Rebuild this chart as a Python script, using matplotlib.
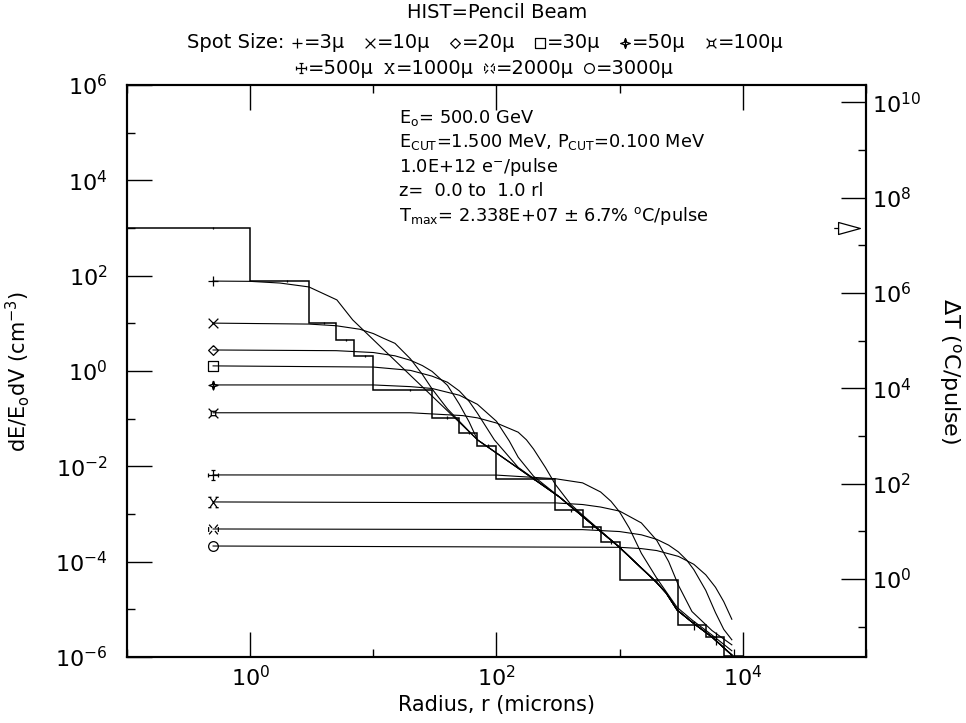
import numpy as np
import matplotlib
matplotlib.use("Agg")
import matplotlib.pyplot as plt
from matplotlib.path import Path
from matplotlib.lines import Line2D
from matplotlib.ticker import FixedLocator, NullFormatter, LogFormatterMathtext

plt.rcParams["font.family"] = ["DejaVu Sans"]
plt.rcParams["mathtext.fontset"] = "dejavusans"

W, H = 966, 723

# pencil-beam histogram: radial bin edges (microns) and dE/E0dV (cm^-3)
HIST_EDGES = [0, 1, 3, 5, 7, 10, 30, 50, 70, 100, 300, 500, 700, 1000,
              3000, 5000, 7000, 10000]
HIST_VALS = [1.01e3, 78, 10.3, 4.5, 2.1, 0.40, 0.105, 0.051, 0.027,
             5.4e-3, 1.2e-3, 5.3e-4, 2.6e-4, 4.2e-5, 4.7e-6, 2.6e-6, 1.07e-6]
HIST_RELERR = [0.04, 0.04, 0.05, 0.05, 0.05, 0.05, 0.06, 0.08, 0.08,
               0.06, 0.08, 0.10, 0.10, 0.06, 0.20, 0.30, 0.35]

TMAX = 2.338e7   # deg C per pulse in the hottest bin

# smoothed pencil-beam tail, shared by the narrow spots at large r
TAIL_R = [70, 100, 324, 991, 1977, 2384, 2924, 3862, 5610, 8140]
TAIL_E = [0.036, 0.019, 2.28e-3, 2.03e-4, 3.75e-5, 2.2e-5, 9.7e-6,
          5.4e-6, 2.63e-6, 1.1e-6]

# spot-size curves (r in microns, dE/E0dV)
R_3 = [0.5, 1, 1.75, 3, 5.06, 6.8, 7.8, 20, 40]
E_3 = [77, 76, 70, 58, 31, 11.8, 8.4, 0.81, 0.146]
R_10 = [0.5, 3, 5, 7.8, 10, 12, 15, 20, 25, 30, 40, 50]
E_10 = [10.1, 9.65, 8.9, 7.5, 6.1, 4.9, 3.8, 1.8, 0.85, 0.42, 0.16, 0.088]
R_20 = [0.5, 5, 10, 15, 20, 25, 30, 40, 50, 60]
E_20 = [2.76, 2.67, 2.44, 2.08, 1.68, 1.3, 0.98, 0.5, 0.2, 0.085]
R_30 = [0.5, 10, 20, 30, 40, 50, 60, 70, 96, 150]
E_30 = [1.28, 1.21, 1.03, 0.78, 0.58, 0.38, 0.23, 0.13, 0.036, 0.0095]
R_50 = [0.5, 10, 20, 30, 50, 70, 100, 127, 150, 200]
E_50 = [0.51, 0.51, 0.47, 0.43, 0.31, 0.2, 0.088, 0.034, 0.0155, 0.0062]
R_100 = [0.5, 20, 53, 70, 100, 150, 175, 200, 250, 300, 400, 500]
E_100 = [0.133, 0.133, 0.116, 0.104, 0.081, 0.052, 0.036, 0.023, 0.0094,
         0.0042, 0.0016, 9.5e-4]
R_500 = [0.5, 100, 300, 500, 700, 850, 1000, 1200, 1500, 2000, 2924, 3862,
         5610, 8140]
E_500 = [6.6e-3, 6.55e-3, 5.5e-3, 4.5e-3, 2.9e-3, 1.85e-3, 1.1e-3, 5e-4,
         1.5e-4, 4.5e-5, 1.1e-5, 6e-6, 2.9e-6, 1.35e-6]
R_1000 = [0.5, 300, 500, 700, 1000, 1500, 2000, 2500, 3000, 3862, 5610, 8140]
E_1000 = [1.79e-3, 1.71e-3, 1.58e-3, 1.4e-3, 1.15e-3, 6.5e-4, 2.8e-4, 1e-4,
          3.2e-5, 9e-6, 3.6e-6, 1.8e-6]
R_2000 = [0.5, 500, 1000, 1500, 2000, 2500, 3000, 3500, 4000, 5000, 6000,
          7000, 8140]
E_2000 = [4.85e-4, 4.7e-4, 4.28e-4, 3.66e-4, 2.94e-4, 2.22e-4, 1.6e-4,
          1.08e-4, 6.8e-5, 2.5e-5, 8.5e-6, 3.8e-6, 2.3e-6]
R_3000 = [0.5, 1000, 1500, 2000, 3000, 4000, 5000, 6000, 7000, 8140]
E_3000 = [2.13e-4, 2.0e-4, 1.88e-4, 1.71e-4, 1.29e-4, 8.8e-5, 5.3e-5,
          2.9e-5, 1.45e-5, 6.2e-6]


def seg_path(segs):
    verts, codes = [], []
    for a, b in segs:
        verts += [a, b]
        codes += [Path.MOVETO, Path.LINETO]
    return Path(verts, codes)


def poly_path(pts):
    return Path(pts + [pts[0]], [Path.MOVETO] + [Path.LINETO] * len(pts))


MK = {
    "plus": seg_path([((-1, 0), (1, 0)), ((0, -1), (0, 1))]),
    "cross": seg_path([((-1, -1), (1, 1)), ((-1, 1), (1, -1))]),
    "diamond": poly_path([(0, 1), (1, 0), (0, -1), (-1, 0)]),
    "square": poly_path([(-1, -1), (1, -1), (1, 1), (-1, 1)]),
    "star": Path([(0, 1), (0.25, 0.25), (1, 0), (0.25, -0.25), (0, -1),
                  (-0.25, -0.25), (-1, 0), (-0.25, 0.25), (0, 1),
                  (0, 1.0), (0, -1.0)],
                 [Path.MOVETO] + [Path.LINETO] * 8 + [Path.MOVETO, Path.LINETO]),
    "curr": seg_path([((-0.45, -0.45), (0.45, -0.45)), ((0.45, -0.45), (0.45, 0.45)),
                      ((0.45, 0.45), (-0.45, 0.45)), ((-0.45, 0.45), (-0.45, -0.45)),
                      ((0.45, 0.45), (1, 1)), ((-0.45, 0.45), (-1, 1)),
                      ((0.45, -0.45), (1, -1)), ((-0.45, -0.45), (-1, -1))]),
    "capplus": seg_path([((-1, 0), (1, 0)), ((0, -1), (0, 1)),
                         ((-0.4, 1), (0.4, 1)), ((-0.4, -1), (0.4, -1)),
                         ((-1, -0.4), (-1, 0.4)), ((1, -0.4), (1, 0.4))]),
    "capcross": seg_path([((-0.7, -1), (0.7, 1)), ((-0.7, 1), (0.7, -1)),
                          ((-1, 1), (-0.4, 1)), ((0.4, 1), (1, 1)),
                          ((-1, -1), (-0.4, -1)), ((0.4, -1), (1, -1))]),
    "asterisk": seg_path([((-0.9, -1), (-0.3, -0.3)), ((0.3, 0.3), (0.9, 1)),
                          ((-0.9, 1), (-0.3, 0.3)), ((0.3, -0.3), (0.9, -1)),
                          ((-1, -0.5), (-1, 0.5)), ((1, -0.5), (1, 0.5))]),
    "circle": "o",
}

SPOTS = [
    ("3", "plus", R_3, E_3),
    ("10", "cross", R_10, E_10),
    ("20", "diamond", R_20, E_20),
    ("30", "square", R_30, E_30),
    ("50", "star", R_50, E_50),
    ("100", "curr", R_100, E_100),
    ("500", "capplus", R_500, E_500),
    ("1000", "capcross", R_1000, E_1000),
    ("2000", "asterisk", R_2000, E_2000),
    ("3000", "circle", R_3000, E_3000),
]
MS = {"plus": 7, "cross": 7, "diamond": 7, "square": 7, "star": 6.5,
      "curr": 7, "capplus": 7, "capcross": 7.5, "asterisk": 7, "circle": 7}

fig = plt.figure(figsize=(W / 100, H / 100), dpi=100)
ax = fig.add_axes([127 / W, 1 - 657 / H, (866 - 127) / W, (657 - 85) / H])
ax.set_xscale("log")
ax.set_yscale("log")
ax.set_xlim(0.1, 1e5)
ax.set_ylim(1e-6, 1e6)

# histogram with its error bars at the bin centres
edges = np.array(HIST_EDGES, float)
vals = np.array(HIST_VALS)
ax.stairs(vals, np.clip(edges, 1e-3, None), color="k", lw=1.1, baseline=None)
centres = 0.5 * (edges[:-1] + edges[1:])
err = vals * np.array(HIST_RELERR)
ax.vlines(centres, vals - err, vals + err, color="k", lw=0.9)

# spot-size curves, narrow ones run on into the pencil tail
for size, mk, r, e in SPOTS:
    r = list(r)
    e = list(e)
    for tr, te in zip(TAIL_R, TAIL_E):
        if tr > r[-1] and int(size) <= 100:
            r.append(tr)
            e.append(te)
    ax.plot(r, e, color="k", lw=0.8)
    ax.plot(r[0], e[0], ls="none", marker=MK[mk], ms=MS[mk], mfc="none",
            mec="k", mew=0.9)

# axis ticks: long at even decades, short at odd decades, all inward
for axis, lo, hi in ((ax.xaxis, -1, 5), (ax.yaxis, -6, 6)):
    axis.set_major_locator(FixedLocator([10.0 ** k for k in range(lo, hi + 1) if k % 2 == 0]))
    axis.set_minor_locator(FixedLocator([10.0 ** k for k in range(lo, hi + 1) if k % 2]))
    axis.set_minor_formatter(NullFormatter())
    axis.set_major_formatter(LogFormatterMathtext())
ax.tick_params(which="both", direction="in", top=True, right=False,
               width=1.0, colors="k")
ax.tick_params(which="major", length=18)
ax.tick_params(which="minor", length=6)
ax.tick_params(axis="y", which="major", labelsize=16, pad=14)
ax.tick_params(axis="x", which="major", labelsize=16, pad=6)
for s in ax.spines.values():
    s.set_linewidth(1.5)

# right-hand temperature scale
scale = TMAX / HIST_VALS[0]
ax2 = ax.twinx()
ax2.set_yscale("log")
ax2.set_ylim(1e-6 * scale, 1e6 * scale)
ax2.yaxis.set_major_locator(FixedLocator([10.0 ** k for k in range(0, 11, 2)]))
ax2.yaxis.set_minor_locator(FixedLocator([10.0 ** k for k in range(-1, 11, 2)]))
ax2.yaxis.set_minor_formatter(NullFormatter())
ax2.yaxis.set_major_formatter(LogFormatterMathtext())
ax2.tick_params(which="both", direction="in", width=1.0)
ax2.tick_params(which="major", length=18, labelsize=16, pad=4)
ax2.tick_params(which="minor", length=6)
for s in ax2.spines.values():
    s.set_linewidth(1.5)

# T_max arrow on the right-hand scale
tri = Path([(-1.4, 0), (-1, 0), (-1, 0.55), (1, 0), (-1, -0.55), (-1, 0)],
           [Path.MOVETO, Path.LINETO, Path.LINETO, Path.LINETO, Path.LINETO,
            Path.LINETO])
ax2.plot([0.977], [TMAX], transform=ax2.get_yaxis_transform(), ls="none",
         marker=tri, ms=22, mfc="none", mec="k", mew=0.9, clip_on=False)

# labels
fig.text(18 / W, 1 - 371 / H, r"dE/E$_{\rm o}$dV (cm$^{-3}$)", rotation=90,
         ha="center", va="center", fontsize=15)
fig.text(950 / W, 1 - 371 / H, r"$\Delta$T ($^{\rm o}$C/pulse)", rotation=270,
         ha="center", va="center", fontsize=16)
fig.text(497 / W, 1 - 705 / H, "Radius, r (microns)", ha="center",
         va="center", fontsize=15)

info = [r"E$_{\rm o}$= 500.0 GeV",
        r"E$_{\rm CUT}$=1.500 MeV, P$_{\rm CUT}$=0.100 MeV",
        r"1.0E+12 e$^{-}$/pulse",
        "z=  0.0 to  1.0 rl",
        r"T$_{\rm max}$= 2.338E+07 ± 6.7% $^{\rm o}$C/pulse"]
for i, line in enumerate(info):
    fig.text(399 / W, 1 - (118 + 24.5 * i) / H, line, ha="left", va="center",
             fontsize=12.8)

fig.text(497 / W, 1 - 12 / H, "HIST=Pencil Beam", ha="center", va="center",
         fontsize=14)


def marker_row(items, xc, y, fs=14, ms=7):
    rend = fig.canvas.get_renderer()
    placed = []
    for kind, val in items:
        if kind == "t":
            t = fig.text(0, 0, val, fontsize=fs, ha="left", va="center")
            placed.append((kind, t, t.get_window_extent(rend).width))
        elif kind == "m":
            placed.append((kind, val, ms * 100 / 72))
        else:
            placed.append((kind, None, val))
    x = xc - sum(p[2] for p in placed) / 2
    for kind, obj, w in placed:
        if kind == "t":
            obj.set_position((x / W, 1 - y / H))
        elif kind == "m":
            fig.add_artist(Line2D([(x + w / 2) / W], [1 - y / H],
                                  transform=fig.transFigure, ls="none",
                                  marker=MK[obj], ms=ms, mfc="none",
                                  mec="k", mew=0.9))
        x += w


def spot_items(spots, gap):
    items = []
    for size, mk, _, _ in spots:
        if items:
            items.append(("g", gap))
        items += [("m", mk), ("g", 2), ("t", "=%sµ" % size)]
    return items


marker_row([("t", "Spot Size:"), ("g", 8)] + spot_items(SPOTS[:6], 20), 485, 43)
marker_row(spot_items(SPOTS[6:], 10), 485, 68)

fig.savefig("out.png", dpi=100)
